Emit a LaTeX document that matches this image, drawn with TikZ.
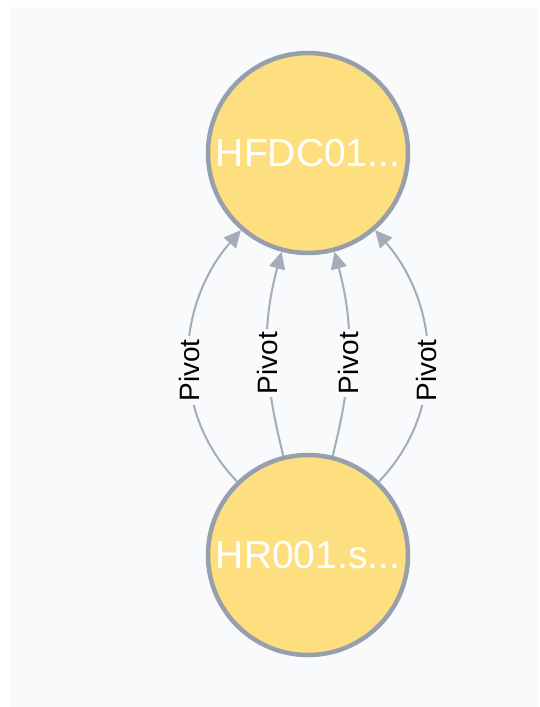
\documentclass[tikz,border=0pt]{standalone}
\usepackage{fontspec}
\setmainfont{Liberation Sans}
\usetikzlibrary{arrows.meta}
\definecolor{panelbg}{RGB}{248,250,252}
\definecolor{nodefill}{RGB}{253,223,128}
\definecolor{nodeline}{RGB}{152,159,172}
\definecolor{edgeline}{RGB}{166,171,186}
\tikzset{
  filenode/.style={circle,fill=nodefill,draw=nodeline,line width=4.5pt,minimum size=200pt,inner sep=0pt,text=white,font=\fontsize{39}{39}\selectfont},
  pivotedge/.style={draw=edgeline,line width=2pt,-{Triangle[length=17pt,width=16pt]}},
  pivotlabel/.style={fill=panelbg,inner sep=3pt,rotate=90,text=black,pos=0.45,font=\fontsize{28}{28}\selectfont}
}
\begin{document}
\begin{tikzpicture}[x=1pt,y=-1pt]
	\useasboundingbox (0,0) rectangle (539,707);
	\fill[white] (0,0) rectangle (539,707);
	\fill[panelbg] (9,7) rectangle (539,707);
	\node[filenode] (hfdc) at (308,153) {HFDC01...};
	\node[filenode] (hr) at (308,555) {HR001.s...};
	% four pivot edges, outer ones bent more
	\path[pivotedge] (hr) to[out=134,in=229] node[pivotlabel]{Pivot} (hfdc);
	\path[pivotedge] (hr) to[out=104,in=255] node[pivotlabel]{Pivot} (hfdc);
	\path[pivotedge] (hr) to[out=76,in=285] node[pivotlabel]{Pivot} (hfdc);
	\path[pivotedge] (hr) to[out=46,in=311] node[pivotlabel]{Pivot} (hfdc);
\end{tikzpicture}
\end{document}
